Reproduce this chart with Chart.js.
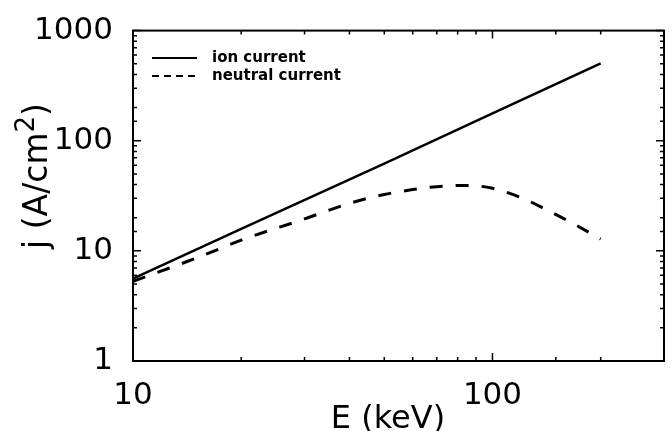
<!DOCTYPE html>
<html>
<head>
<meta charset="utf-8">
<script src="https://cdn.jsdelivr.net/npm/chart.js@4.4.1/dist/chart.umd.min.js"></script>
<style>
  html, body { margin: 0; padding: 0; background: #fff; }
  canvas { display: block; }
</style>
</head>
<body>
<canvas id="chart" width="672" height="431"></canvas>
<script>
// Energies (keV) and current densities (A/cm^2)
const ionEnergy = [10, 20, 50, 100, 200];
const ionCurrent = [5.6, 15.8, 62, 177, 505];
const neutralEnergy = [10, 15, 20, 30, 40, 50, 60, 70, 85, 100, 120, 140, 165, 200];
const neutralCurrent = [5.3, 8.6, 12.5, 19.5, 27, 32.5, 36, 38.3, 39.3, 37, 30.5, 24, 18.2, 12.8];
const seriesLabels = ['ion current', 'neutral current'];
const xRange = [10, 300];
const yRange = [1, 1000];
const xTitle = 'E (keV)';
const yTitle = ['j (A/cm', '2', ')'];

const FONT = 'DejaVu Sans';

function isDecade(v) {
  const r = Math.log10(v);
  return Math.abs(r - Math.round(r)) < 1e-9;
}

// Box frame, inward tick marks, legend and axis titles
const framePlugin = {
  id: 'frame',
  afterDraw(chart) {
    const ctx = chart.ctx;
    const a = chart.chartArea;
    const xs = chart.scales.x, ys = chart.scales.y;
    ctx.save();
    ctx.strokeStyle = '#000';
    ctx.lineWidth = 2;
    ctx.strokeRect(a.left, a.top, a.right - a.left, a.bottom - a.top);

    ctx.lineWidth = 1.5;
    ctx.beginPath();
    ys.ticks.forEach(t => {
      const y = ys.getPixelForValue(t.value);
      const len = isDecade(t.value) ? 8 : 4;
      ctx.moveTo(a.left, y); ctx.lineTo(a.left + len, y);
      ctx.moveTo(a.right, y); ctx.lineTo(a.right - len, y);
    });
    xs.ticks.forEach(t => {
      const x = xs.getPixelForValue(t.value);
      const len = isDecade(t.value) ? 8 : 4;
      ctx.moveTo(x, a.bottom); ctx.lineTo(x, a.bottom - len);
      ctx.moveTo(x, a.top); ctx.lineTo(x, a.top + len);
    });
    ctx.stroke();

    // legend
    chart.data.datasets.forEach((ds, i) => {
      const y = 58 + i * 18;
      ctx.beginPath();
      ctx.lineWidth = 2;
      ctx.setLineDash(ds.borderDash && ds.borderDash.length ? [7, 5] : []);
      ctx.moveTo(a.left + 19, y);
      ctx.lineTo(a.left + 64, y);
      ctx.stroke();
      ctx.setLineDash([]);
      ctx.fillStyle = '#000';
      ctx.font = 'bold 15px "' + FONT + '"';
      ctx.textBaseline = 'middle';
      ctx.textAlign = 'left';
      ctx.fillText(ds.label, a.left + 79, y);
    });

    // x title
    ctx.font = '32px "' + FONT + '"';
    ctx.textAlign = 'center';
    ctx.textBaseline = 'alphabetic';
    ctx.fillText(xTitle, 388, 428);

    // y title, rotated, with superscript
    ctx.translate(47, 176);
    ctx.rotate(-Math.PI / 2);
    const big = '33px "' + FONT + '"', small = '26px "' + FONT + '"';
    ctx.font = big;
    const w1 = ctx.measureText(yTitle[0]).width;
    const w3 = ctx.measureText(yTitle[2]).width;
    ctx.font = small;
    const w2 = ctx.measureText(yTitle[1]).width;
    let x0 = -(w1 + w2 + w3) / 2;
    ctx.textAlign = 'left';
    ctx.font = big;
    ctx.fillText(yTitle[0], x0, 0);
    ctx.font = small;
    ctx.fillText(yTitle[1], x0 + w1, -13);
    ctx.font = big;
    ctx.fillText(yTitle[2], x0 + w1 + w2, 0);
    ctx.restore();
  }
};

const ctx = document.getElementById('chart').getContext('2d');
const chart = new Chart(ctx, {
  type: 'line',
  data: {
    datasets: [
      {
        label: seriesLabels[0],
        data: ionEnergy.map((e, i) => ({ x: e, y: ionCurrent[i] })),
        borderColor: '#000',
        borderWidth: 2.5,
        pointRadius: 0,
        tension: 0,
        fill: false
      },
      {
        label: seriesLabels[1],
        data: neutralEnergy.map((e, i) => ({ x: e, y: neutralCurrent[i] })),
        borderColor: '#000',
        borderWidth: 3,
        borderDash: [13, 13],
        pointRadius: 0,
        cubicInterpolationMode: 'monotone',
        fill: false
      }
    ]
  },
  options: {
    responsive: false,
    animation: false,
    devicePixelRatio: 1,
    layout: { padding: { top: 23, right: 2, left: 0, bottom: 0 } },
    plugins: {
      legend: { display: false },
      tooltip: { enabled: false }
    },
    scales: {
      x: {
        type: 'logarithmic',
        min: xRange[0],
        max: xRange[1],
        grid: { display: false },
        border: { display: false },
        ticks: {
          autoSkip: false,
          maxRotation: 0,
          padding: 8,
          color: '#000',
          font: { family: FONT, size: 31 },
          callback: v => isDecade(v) ? String(v) : ''
        },
        afterFit: s => { s.height = 70; }
      },
      y: {
        type: 'logarithmic',
        min: yRange[0],
        max: yRange[1],
        grid: { display: false },
        border: { display: false },
        ticks: {
          autoSkip: false,
          padding: 12,
          color: '#000',
          font: { family: FONT, size: 31 },
          callback: v => isDecade(v) ? String(v) : ''
        },
        afterFit: s => { s.width = 133; }
      }
    }
  },
  plugins: [framePlugin]
});
</script>
</body>
</html>
